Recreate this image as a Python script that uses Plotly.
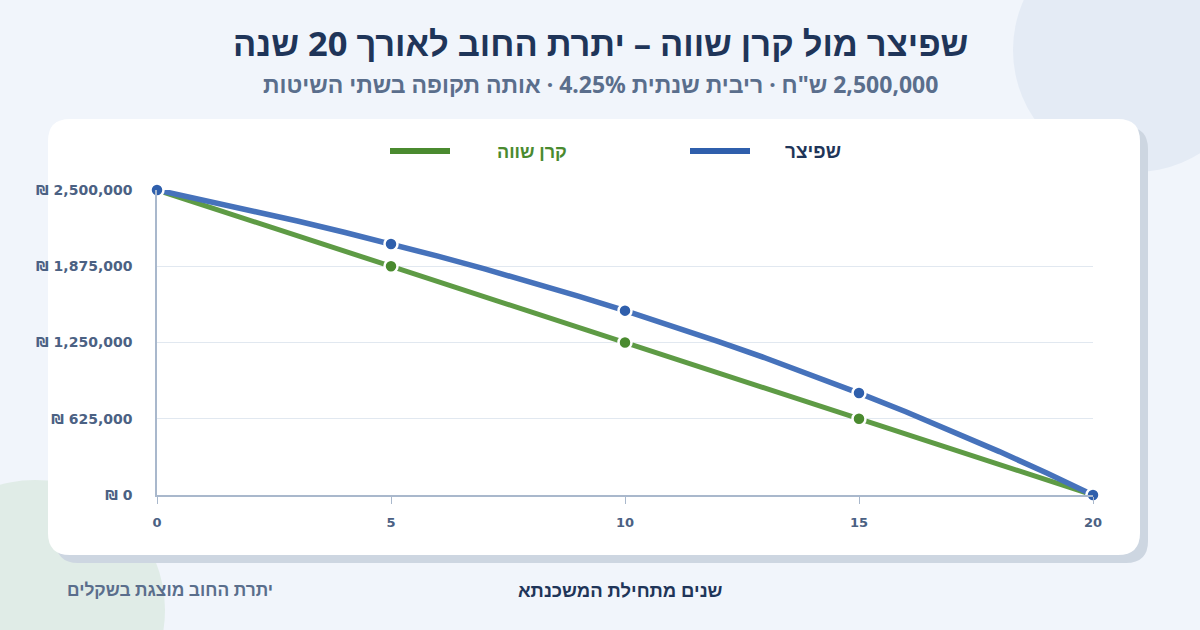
import plotly.graph_objects as go

# ---- data ----
YEARS = list(range(0, 21))
SPITZER = [2500000, 2418900, 2334300, 2246000, 2154000, 2057900, 1957600, 1853000,
           1743900, 1630100, 1511200, 1387300, 1258000, 1123100, 982400, 835600,
           682400, 522500, 355700, 181700, 0]
EQUAL_PRINCIPAL = [2500000, 2375000, 2250000, 2125000, 2000000, 1875000, 1750000, 1625000,
                   1500000, 1375000, 1250000, 1125000, 1000000, 875000, 750000, 625000,
                   500000, 375000, 250000, 125000, 0]
MARK_YEARS = [0, 5, 10, 15, 20]
Y_TICKS = [0, 625000, 1250000, 1875000, 2500000]
Y_TICK_TEXT = ["₪ 0", "₪ 625,000", "₪ 1,250,000", "₪ 1,875,000", "₪ 2,500,000"]
X_TICKS = [0, 5, 10, 15, 20]
X_TICK_TEXT = ["0", "5", "10", "15", "20"]

TITLE = "שפיצר מול קרן שווה – יתרת החוב לאורך 20 שנה"
SUBTITLE = "2,500,000 ש\"ח · ריבית שנתית 4.25% · אותה תקופה בשתי השיטות"
NAME_SPITZER = "שפיצר"
NAME_EQUAL = "קרן שווה"
X_TITLE = "שנים מתחילת המשכנתא"
NOTE = "יתרת החוב מוצגת בשקלים"

BLUE_LINE, BLUE_MARK = "#4672bb", "#2f5fac"
GREEN_LINE, GREEN_MARK = "#5e9b45", "#4a8a2f"
NAVY = "#1f3559"
SLATE = "#4b6183"
FONT = "Noto Sans, Liberation Sans, DejaVu Sans, sans-serif"
TICK_FONT = "DejaVu Sans, sans-serif"

# plot area in pixels
W, H = 1200, 630
PL, PR, PT, PB = 157, 1093, 190, 495


def px(x):
    return (x - PL) / (PR - PL)


def py(y):
    return (PB - y) / (PB - PT)


def rtl(s):
    return "\u202b" + s + "\u202c"


def bold(s):
    return "<b>" + s + "</b>"


def rounded_rect(x0, y0, x1, y1, r):
    pts = [
        ("M", x0 + r, y0), ("L", x1 - r, y0), ("Q", x1, y0, x1, y0 + r),
        ("L", x1, y1 - r), ("Q", x1, y1, x1 - r, y1), ("L", x0 + r, y1),
        ("Q", x0, y1, x0, y1 - r), ("L", x0, y0 + r), ("Q", x0, y0, x0 + r, y0),
    ]
    out = []
    for p in pts:
        cmd, coords = p[0], p[1:]
        c = []
        for i in range(0, len(coords), 2):
            c.append(f"{px(coords[i]):.5f},{py(coords[i + 1]):.5f}")
        out.append(cmd + " ".join(c))
    return " ".join(out) + " Z"


def circle(cx, cy, r, color):
    return dict(type="circle", xref="paper", yref="paper", layer="below",
                x0=px(cx - r), x1=px(cx + r), y0=py(cy + r), y1=py(cy - r),
                fillcolor=color, line=dict(width=0))


fig = go.Figure()

fig.add_trace(go.Scatter(x=YEARS, y=EQUAL_PRINCIPAL, mode="lines", name=NAME_EQUAL,
                         line=dict(color=GREEN_LINE, width=5), cliponaxis=False))
fig.add_trace(go.Scatter(x=MARK_YEARS, y=[EQUAL_PRINCIPAL[i] for i in MARK_YEARS], mode="markers",
                         marker=dict(color=GREEN_MARK, size=13, line=dict(color="white", width=2.5)),
                         cliponaxis=False))
fig.add_trace(go.Scatter(x=YEARS, y=SPITZER, mode="lines", name=NAME_SPITZER,
                         line=dict(color=BLUE_LINE, width=5.5), cliponaxis=False))
fig.add_trace(go.Scatter(x=MARK_YEARS, y=[SPITZER[i] for i in MARK_YEARS], mode="markers",
                         marker=dict(color=BLUE_MARK, size=13, line=dict(color="white", width=2.5)),
                         cliponaxis=False))

shapes = [
    circle(1135, 50, 122, "#e4ebf5"),
    circle(35, 610, 130, "#e0ece7"),
    dict(type="path", xref="paper", yref="paper", layer="below",
         path=rounded_rect(56, 127, 1148, 563, 22), fillcolor="#cdd6e1", line=dict(width=0)),
    dict(type="path", xref="paper", yref="paper", layer="below",
         path=rounded_rect(48, 119, 1140, 555, 22), fillcolor="#ffffff", line=dict(width=0)),
    # legend swatches
    dict(type="line", xref="paper", yref="paper", x0=px(690), x1=px(750), y0=py(151), y1=py(151),
         line=dict(color="#2f5fac", width=6)),
    dict(type="line", xref="paper", yref="paper", x0=px(390), x1=px(450), y0=py(151), y1=py(151),
         line=dict(color="#4a8a2f", width=6)),
]

annotations = [
    dict(text=bold(rtl(TITLE)), x=px(600), y=py(42), font=dict(size=34.5, color=NAVY)),
    dict(text=bold(rtl(SUBTITLE)), x=px(600), y=py(84), font=dict(size=23, color="#5a6e8c")),
    dict(text=bold(rtl(NAME_SPITZER)), x=px(843), y=py(151), xanchor="right",
         font=dict(size=19, color=NAVY)),
    dict(text=bold(rtl(NAME_EQUAL)), x=px(569), y=py(151), xanchor="right",
         font=dict(size=18, color="#4a8a2f")),
    dict(text=bold(rtl(X_TITLE)), x=px(620), y=py(589), font=dict(size=18.5, color=NAVY)),
    dict(text=bold(rtl(NOTE)), x=px(170), y=py(589), font=dict(size=17.4, color="#5a6e8c")),
]
for a in annotations:
    a.update(xref="paper", yref="paper", showarrow=False)
    a.setdefault("xanchor", "center")
    a.setdefault("yanchor", "middle")

fig.update_layout(
    width=W, height=H,
    margin=dict(l=PL, r=W - PR, t=PT, b=H - PB),
    paper_bgcolor="#f1f5fb", plot_bgcolor="rgba(0,0,0,0)",
    showlegend=False,
    font=dict(family=FONT, color=SLATE),
    shapes=shapes, annotations=annotations,
)
fig.update_xaxes(range=[0, 20], tickvals=X_TICKS, ticktext=[bold(t) for t in X_TICK_TEXT],
                 showgrid=False, zeroline=False,
                 showline=True, linecolor="#a9b8cc", linewidth=1.5,
                 ticks="outside", ticklen=7, tickcolor="#a9b8cc",
                 tickfont=dict(size=13, color=SLATE, family=TICK_FONT), ticklabelstandoff=8)
fig.update_yaxes(range=[0, 2500000], tickvals=Y_TICKS, ticktext=[bold(t) for t in Y_TICK_TEXT],
                 showgrid=True, gridcolor="#e1e8f0", gridwidth=1, zeroline=False,
                 showline=True, linecolor="#a9b8cc", linewidth=1.5,
                 tickfont=dict(size=14, color=SLATE, family=TICK_FONT), ticklabelstandoff=20)

fig.write_html("out.html", config={"displayModeBar": False},
               post_script="document.body.style.margin='0';")
